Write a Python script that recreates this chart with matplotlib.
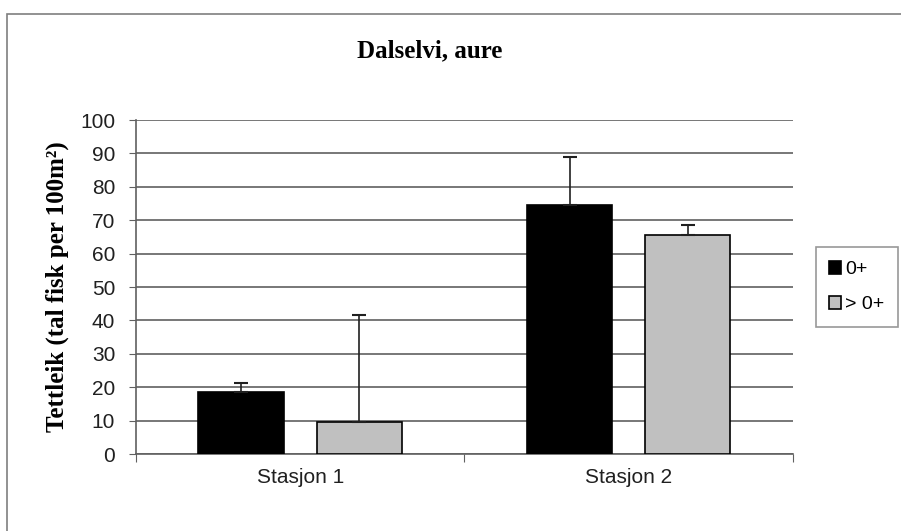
import numpy as np
import matplotlib.pyplot as plt
from matplotlib.patches import Rectangle

# data
stasjonar = ['Stasjon 1', 'Stasjon 2']
alder = ['0+', '> 0+']
tettleik_0 = [18.5, 74.5]
tettleik_eldre = [9.5, 65.5]
feil_0 = [2.8, 14.3]
feil_eldre = [32.0, 3.0]
yticks = list(range(0, 101, 10))

fig = plt.figure(figsize=(9.01, 5.31), dpi=100)
ax = fig.add_axes([0.151, 0.145, 0.729, 0.629])

# outer frame of the chart area
fig.patches.append(Rectangle((0.008, -0.05), 1.2, 1.024, transform=fig.transFigure,
                             fill=False, edgecolor='#7f7f7f', linewidth=1.2))

x = np.arange(len(stasjonar))
w = 0.26
d = 0.18
ax.bar(x - d, tettleik_0, w, color='black', edgecolor='black', linewidth=1.2,
       label=alder[0], zorder=3,
       yerr=[np.zeros(2), feil_0], error_kw=dict(ecolor='#202020', elinewidth=1.2, capsize=5, capthick=1.5))
ax.bar(x + d, tettleik_eldre, w, color='#c0c0c0', edgecolor='black', linewidth=1.2,
       label=alder[1], zorder=3,
       yerr=[np.zeros(2), feil_eldre], error_kw=dict(ecolor='#202020', elinewidth=1.2, capsize=5, capthick=1.5))

ax.set_xlim(-0.5, 1.5)
ax.set_ylim(0, 100)
ax.set_yticks(yticks)
ax.yaxis.grid(True, color='#606060', linewidth=1.2, zorder=0)
ax.set_axisbelow(True)

ax.set_xticks([-0.5, 0.5, 1.5])
ax.set_xticklabels([])
ax.set_xticks(x, minor=True)
ax.set_xticklabels(stasjonar, minor=True, fontsize=15, family='Liberation Sans', color='#202020')
ax.tick_params(axis='x', which='minor', length=0, pad=10)
ax.tick_params(axis='x', which='major', length=6, color='#606060')
ax.tick_params(axis='y', length=5, pad=10, color='#606060', labelsize=15, labelcolor='#202020')
for lab in ax.get_yticklabels():
    lab.set_family('Liberation Sans')

for s in ['top', 'right']:
    ax.spines[s].set_visible(False)
for s in ['left', 'bottom']:
    ax.spines[s].set_color('#606060')
    ax.spines[s].set_linewidth(1.2)

ax.set_ylabel('Tettleik (tal fisk per 100m²)', fontsize=18, fontweight='bold',
              family='Liberation Serif', labelpad=8)
fig.text(0.477, 0.905, 'Dalselvi, aure', ha='center', va='center', fontsize=18,
         fontweight='bold', family='Liberation Serif')

leg = ax.legend(loc='center left', bbox_to_anchor=(1.02, 0.5), frameon=True, fancybox=False,
                edgecolor='#7f7f7f', handlelength=0.6, handleheight=0.7,
                handletextpad=0.2, labelspacing=0.9, borderpad=0.7,
                prop={'family': 'Liberation Sans', 'size': 14})
leg.get_frame().set_linewidth(1.2)

fig.savefig('out.png', dpi=100)
